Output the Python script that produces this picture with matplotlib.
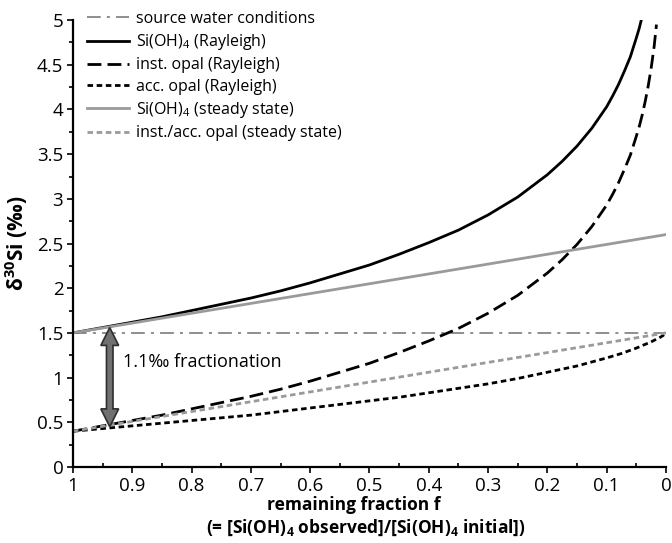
import matplotlib
matplotlib.use('Agg')
import matplotlib.pyplot as plt
from matplotlib.patches import Polygon
from matplotlib.ticker import MultipleLocator

plt.rcParams['font.family'] = ['Open Sans', 'DejaVu Sans']
plt.rcParams['mathtext.fontset'] = 'custom'
plt.rcParams['mathtext.rm'] = 'Open Sans'
plt.rcParams['mathtext.bf'] = 'Open Sans:bold'

# remaining fraction f and d30Si values of each model curve
f_si = [1, 0.95, 0.9, 0.85, 0.8, 0.75, 0.7, 0.65, 0.6, 0.55, 0.5, 0.45, 0.4,
        0.35, 0.3, 0.25, 0.2, 0.175, 0.15, 0.125, 0.1, 0.09, 0.08, 0.07,
        0.06, 0.05, 0.045, 0.042]
si_rayleigh = [1.50, 1.56, 1.62, 1.68, 1.75, 1.82, 1.89, 1.97, 2.06, 2.16,
               2.26, 2.38, 2.51, 2.65, 2.82, 3.02, 3.27, 3.42, 3.59, 3.79,
               4.03, 4.15, 4.28, 4.43, 4.59, 4.80, 4.91, 4.99]

f_inst = [1, 0.95, 0.9, 0.85, 0.8, 0.75, 0.7, 0.65, 0.6, 0.55, 0.5, 0.45,
          0.4, 0.35, 0.3, 0.25, 0.2, 0.175, 0.15, 0.125, 0.1, 0.09, 0.08,
          0.07, 0.06, 0.05, 0.045, 0.04, 0.035, 0.03, 0.025, 0.02, 0.016]
inst_rayleigh = [0.40, 0.46, 0.52, 0.58, 0.65, 0.72, 0.79, 0.87, 0.96, 1.06,
                 1.16, 1.28, 1.41, 1.55, 1.72, 1.92, 2.17, 2.32, 2.49, 2.69,
                 2.93, 3.05, 3.18, 3.33, 3.49, 3.70, 3.81, 3.94, 4.09, 4.26,
                 4.46, 4.70, 4.95]

f_acc = [1, 0.95, 0.9, 0.85, 0.8, 0.75, 0.7, 0.65, 0.6, 0.55, 0.5, 0.45, 0.4,
         0.35, 0.3, 0.25, 0.2, 0.15, 0.1, 0.075, 0.05, 0.025, 0.01, 0.005, 0]
acc_rayleigh = [0.40, 0.43, 0.46, 0.49, 0.52, 0.55, 0.58, 0.62, 0.66, 0.70,
                0.74, 0.78, 0.83, 0.88, 0.93, 0.99, 1.06, 1.13, 1.22, 1.27,
                1.33, 1.40, 1.45, 1.47, 1.50]

f_ss = [1, 0]
si_steady = [1.50, 2.60]
opal_steady = [0.40, 1.50]

source_f = [1, 0]
source_d30 = [1.5, 1.5]

x_ticks = [1, 0.9, 0.8, 0.7, 0.6, 0.5, 0.4, 0.3, 0.2, 0.1, 0]
x_labels = ['1', '0.9', '0.8', '0.7', '0.6', '0.5', '0.4', '0.3', '0.2',
            '0.1', '0']
y_ticks = [0, 0.5, 1, 1.5, 2, 2.5, 3, 3.5, 4, 4.5, 5]
y_labels = ['0', '0.5', '1', '1.5', '2', '2.5', '3', '3.5', '4', '4.5', '5']

# fractionation arrow between dissolved Si and opal
arrow_f = 0.938
arrow_top = 1.56
arrow_bottom = 0.45

fig = plt.figure(figsize=(6.72, 5.43), dpi=100)
ax = fig.add_axes([0.1086, 0.140, 0.8824, 0.823])

grey = '#9a9a9a'
ax.plot(source_f, source_d30, color='#707070', lw=1.1, dashes=(9, 4, 2, 4),
        label='source water conditions')
ax.plot(f_si, si_rayleigh, color='black', lw=2.0,
        label='Si(OH)$_4$ (Rayleigh)')
ax.plot(f_inst, inst_rayleigh, color='black', lw=2.0, dashes=(5, 2.2),
        label='inst. opal (Rayleigh)')
ax.plot(f_acc, acc_rayleigh, color='black', lw=2.0, dashes=(2, 1.3),
        label='acc. opal (Rayleigh)')
ax.plot(f_ss, si_steady, color=grey, lw=2.0,
        label='Si(OH)$_4$ (steady state)')
ax.plot(f_ss, opal_steady, color=grey, lw=2.0, dashes=(2, 1.3),
        label='inst./acc. opal (steady state)')

# double headed arrow (shaft / head half-widths in f units, head length in d30Si)
sw, hw, hl = 0.0055, 0.015, 0.2
pts = [(arrow_f, arrow_top), (arrow_f + hw, arrow_top - hl),
       (arrow_f + sw, arrow_top - hl), (arrow_f + sw, arrow_bottom + hl),
       (arrow_f + hw, arrow_bottom + hl), (arrow_f, arrow_bottom),
       (arrow_f - hw, arrow_bottom + hl), (arrow_f - sw, arrow_bottom + hl),
       (arrow_f - sw, arrow_top - hl), (arrow_f - hw, arrow_top - hl)]
ax.add_patch(Polygon(pts, closed=True, fc='#707070', ec='#2e2e2e', lw=1.2,
                     zorder=3))
ax.text(0.915, 1.17, '1.1‰ fractionation', fontsize=13, va='center',
        ha='left')

ax.set_xticks(x_ticks)
ax.set_xticklabels(x_labels)
ax.set_yticks(y_ticks)
ax.set_yticklabels(y_labels)
ax.xaxis.set_minor_locator(MultipleLocator(0.05))
ax.yaxis.set_minor_locator(MultipleLocator(0.25))
ax.set_xlim(1, 0)
ax.set_ylim(0, 5)
ax.tick_params(axis='both', which='major', labelsize=13.5, length=4,
               width=1.2, direction='out', pad=3)
ax.tick_params(axis='x', which='minor', length=3, width=1.2, direction='in')
ax.tick_params(axis='y', which='minor', length=3, width=1.2, direction='out')
for side in ('top', 'right'):
    ax.spines[side].set_visible(False)
for side in ('left', 'bottom'):
    ax.spines[side].set_linewidth(1.6)

ax.set_ylabel(r'δ$^{\mathbf{30}}$Si (‰)', fontsize=15, fontweight='bold')
ax.yaxis.set_label_coords(-0.072, 0.5)

fig.text(0.527, 0.070, 'remaining fraction f', ha='center', va='center',
         fontsize=12.5, fontweight='bold')
fig.text(0.545, 0.028,
         r'(= [Si(OH)$_\mathbf{4}$ observed]/[Si(OH)$_\mathbf{4}$ initial])',
         ha='center', va='center', fontsize=12.5, fontweight='bold')

ax.legend(loc='upper left', bbox_to_anchor=(0.013, 1.035), frameon=False,
          fontsize=11.5, handlelength=2.6, handletextpad=0.45,
          labelspacing=0.33, borderaxespad=0)

fig.savefig('out.png', dpi=100)
